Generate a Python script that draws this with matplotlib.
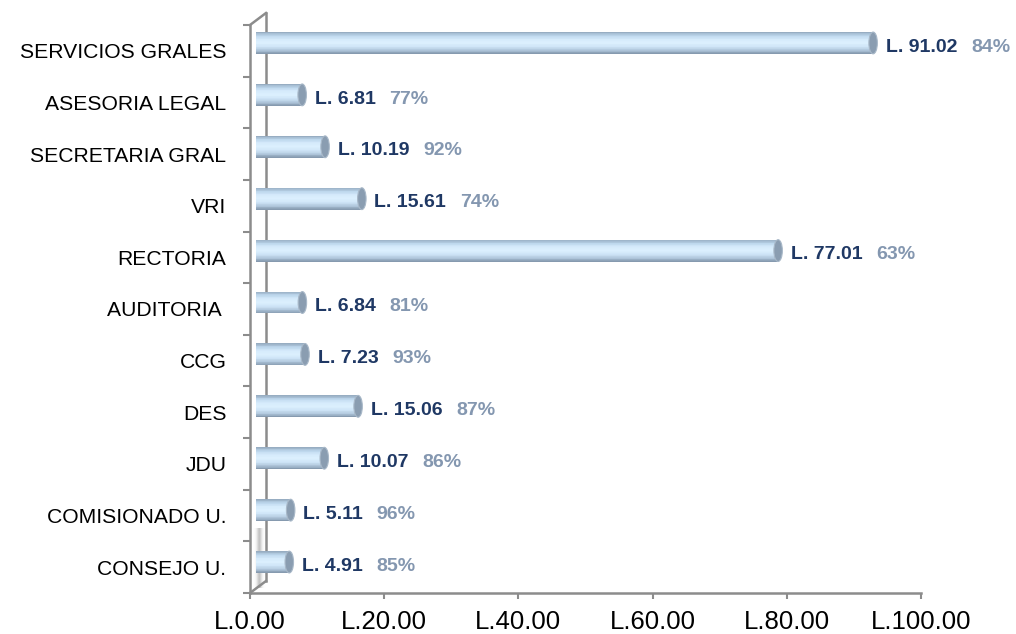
import numpy as np
import matplotlib
matplotlib.use("Agg")
import matplotlib.pyplot as plt
import matplotlib.transforms as mtransforms
from matplotlib.colors import LinearSegmentedColormap
from matplotlib.patches import Ellipse
from matplotlib.lines import Line2D

# data, bottom to top
categories = ["CONSEJO U.", "COMISIONADO U.", "JDU", "DES", "CCG", "AUDITORIA ",
              "RECTORIA", "VRI", "SECRETARIA GRAL", "ASESORIA LEGAL", "SERVICIOS GRALES"]
amounts = [4.91, 5.11, 10.07, 15.06, 7.23, 6.84, 77.01, 15.61, 10.19, 6.81, 91.02]
percents = ["85%", "96%", "86%", "87%", "93%", "81%", "63%", "74%", "92%", "77%", "84%"]
xticks = [0, 20, 40, 60, 80, 100]
xtick_labels = ["L.0.00", "L.20.00", "L.40.00", "L.60.00", "L.80.00", "L.100.00"]

plt.rcParams['font.family'] = ['Liberation Sans', 'DejaVu Sans']

W, H = 1016, 634
fig = plt.figure(figsize=(W / 100, H / 100), dpi=100)
GRAY = "#8c8c8c"
NAVY = "#1f3864"
PCT = "#8497b0"

def px_box(x0, x1, ytop, ybot):
    return [x0 / W, 1 - ybot / H, (x1 - x0) / W, (ybot - ytop) / H]

# front plane: ticks, labels, frame
ax = fig.add_axes(px_box(250, 921, 25, 593))
ax.set_xticks(xticks, xtick_labels, fontsize=18.5)
ax.set_yticks(range(len(categories)), categories, fontsize=15.2)
ax.set_yticks(np.arange(-0.5, len(categories), 1), minor=True)
ax.tick_params(axis="y", which="major", length=0, pad=17)
ax.tick_params(axis="y", which="minor", length=5, width=1.5, color=GRAY)
ax.tick_params(axis="x", length=4, width=1.5, color=GRAY, pad=8)
for s in ["top", "right"]:
    ax.spines[s].set_visible(False)
for s in ["left", "bottom"]:
    ax.spines[s].set_color(GRAY)
    ax.spines[s].set_linewidth(1.8)
ax.patch.set_visible(False)

# soft shadow on the back wall near the first bar
shade = np.array([[0.0, 0.15, 0.6, 1.0, 0.5, 0.1, 0.0]])
ax.imshow(shade, extent=(0.4, 2.2, -0.4, 0.75), aspect="auto", cmap="Greys",
          vmin=0, vmax=1.8, alpha=0.6, zorder=0.5, interpolation="bicubic")
ax.set_xlim(0, 100)
ax.set_ylim(-0.5, len(categories) - 0.5)

# back wall edges (3d depth offset)
back = ax.transAxes + mtransforms.ScaledTranslation(0.16, 0.12, fig.dpi_scale_trans)
ax.add_line(Line2D([0, 0], [0, 1], transform=back, color=GRAY, lw=1.8, clip_on=False))
for yy in (0, 1):
    p0 = ax.transAxes.transform((0, yy))
    p1 = back.transform((0, yy))
    fig.add_artist(Line2D([p0[0] / W, p1[0] / W], [p0[1] / H, p1[1] / H],
                          transform=fig.transFigure, color=GRAY, lw=1.8))

# bar plane
bx = fig.add_axes(px_box(256, 934, 17, 588))
bx.set_xlim(0, 100)
bx.set_ylim(-0.5, len(categories) - 0.5)
bx.axis("off")

stops = ["#93a9be", "#bcd6ec", "#d5eafb", "#dcf0fe", "#cfe5f7", "#b2c9de", "#8195aa"]
cmap = LinearSegmentedColormap.from_list("cyl", stops)
n = 30
h = 0.42
y = np.arange(len(categories))
for i in range(n):
    frac = (i + 0.5) / n
    bx.barh(y + h / 2 - (i + 0.5) * h / n, amounts, height=h / n * 1.05,
            color=cmap(frac), linewidth=0)
for yi, v in zip(y, amounts):
    bx.add_patch(Ellipse((v, yi), 1.25, h, facecolor="#8a9db1", edgecolor="#a8b8c8", lw=0.8))

for yi, v, p in zip(y, amounts, percents):
    t = bx.annotate(f"L. {v:.2f}", (v, yi), xytext=(9, -3), textcoords="offset points",
                    ha="left", va="center", fontsize=14, fontweight="bold", color=NAVY)
    bx.annotate(p, xy=(1, 0), xycoords=t, xytext=(10, 0), textcoords="offset points",
                ha="left", va="bottom", fontsize=14, fontweight="bold", color=PCT)

fig.savefig("out.png", dpi=100)
